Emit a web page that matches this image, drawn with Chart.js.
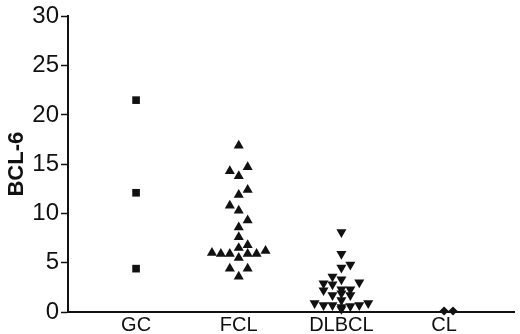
<!DOCTYPE html>
<html>
<head>
<meta charset="utf-8">
<script src="https://cdn.jsdelivr.net/npm/chart.js@4/dist/chart.umd.min.js"></script>
<style>
  html, body { margin: 0; padding: 0; background: #fff; }
  #wrap { width: 520px; height: 334px; }
</style>
</head>
<body>
<div id="wrap"><canvas id="bclChart" width="520" height="334"></canvas></div>
<script>
// categories on the x axis
const categories = ['GC', 'FCL', 'DLBCL', 'CL'];
const yTicks = [0, 5, 10, 15, 20, 25, 30];

// BCL-6 values per group, with the side-by-side column of each dot (0 = centre)
const gcValues = [21.5, 12.1, 4.4];
const gcColumn = [0, 0, 0];

const fclValues = [16.9, 14.3, 14.7, 13.8, 11.9, 12.4, 10.8, 10.3, 9.3, 8.6, 7.6, 6.5, 6.8,
                   6.0, 5.9, 5.9, 5.5, 5.9, 5.9, 6.2, 4.4, 4.4, 3.6];
const fclColumn = [0, -1, 1, 0, 0, 1, -1, 0, 1, 0, 0, 0, 1,
                   -3, -2, -1, 0, 1, 2, 3, -1, 1, 0];

const dlbclValues = [8.1, 5.9, 4.8, 4.5, 3.6, 3.3, 3.0, 2.9, 2.8, 2.3, 2.3, 2.2, 1.7, 1.7, 1.9, 1.2,
                     0.9, 0.7, 0.7, 0.5, 0.6, 0.7, 0.9, 0.3];
const dlbclColumn = [0, 0, 1, 0, -1, 0, 2, -2, -1, 0, 1, -2, -1, 1, 0, 0,
                     -3, -2, -1, 0, 1, 2, 3, 0];

const clValues = [0.1, 0.1];
const clColumn = [0, 1];

const columnStep = 0.087; // width of one dot column, in category units

function toPoints(catIndex, values, columns) {
    return values.map((v, i) => ({ x: catIndex + 1 + columns[i] * columnStep, y: v }));
}

const ink = '#111';
const fontFamily = '"Liberation Sans", Arial, Helvetica, sans-serif';

const ctx = document.getElementById('bclChart').getContext('2d');

const bclChart = new Chart(ctx, {
    type: 'scatter',
    data: {
        datasets: [
            { label: 'GC', data: toPoints(0, gcValues, gcColumn), pointStyle: 'rect', pointRadius: 5.4 },
            { label: 'FCL', data: toPoints(1, fclValues, fclColumn), pointStyle: 'triangle', pointRadius: 5.8 },
            { label: 'DLBCL', data: toPoints(2, dlbclValues, dlbclColumn), pointStyle: 'triangle', pointRotation: 180, pointRadius: 5.8 },
            { label: 'CL', data: toPoints(3, clValues, clColumn), pointStyle: 'rectRot', pointRadius: 4.6 }
        ].map(ds => Object.assign(ds, {
            backgroundColor: ink,
            borderColor: ink,
            pointBorderWidth: 0,
            clip: false
        }))
    },
    options: {
        responsive: false,
        animation: false,
        layout: { padding: { top: 10, right: 0, bottom: 0, left: 0 } },
        plugins: {
            legend: { display: false },
            tooltip: { enabled: false }
        },
        scales: {
            x: {
                type: 'linear',
                min: 0.337,
                max: 4.683,
                afterBuildTicks: scale => {
                    scale.ticks = categories.map((c, i) => ({ value: i + 1 }));
                },
                afterFit: scale => { scale.height = 22; },
                ticks: {
                    color: ink,
                    padding: 1,
                    font: { family: fontFamily, size: 20 },
                    callback: value => categories[value - 1]
                },
                grid: { drawOnChartArea: false, drawTicks: false },
                border: { display: true, color: ink, width: 2 }
            },
            y: {
                min: 0,
                max: 30,
                afterBuildTicks: scale => {
                    scale.ticks = yTicks.map(v => ({ value: v }));
                },
                afterFit: scale => { scale.width = 68; },
                ticks: {
                    color: ink,
                    padding: 2,
                    font: { family: fontFamily, size: 24 }
                },
                grid: { drawOnChartArea: false, drawTicks: true, tickLength: 7, tickColor: ink, tickWidth: 1.5 },
                border: { display: true, color: ink, width: 2 },
                title: {
                    display: true,
                    text: 'BCL-6',
                    color: ink,
                    padding: { top: 4, bottom: 0 },
                    font: { family: fontFamily, size: 22, weight: 'bold' }
                }
            }
        }
    }
});
</script>
</body>
</html>
